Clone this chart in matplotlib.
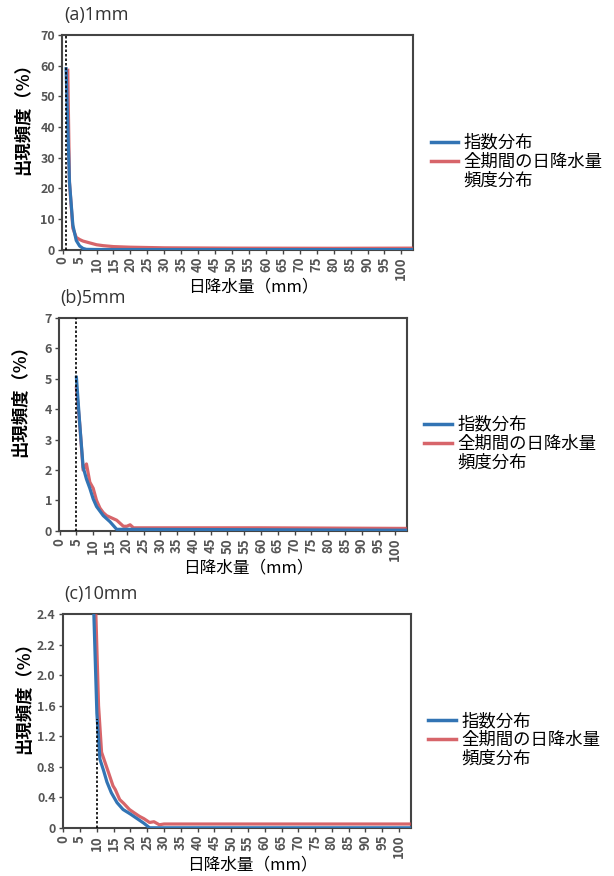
import matplotlib.pyplot as plt
from matplotlib.lines import Line2D

plt.rcParams['font.family'] = ['Noto Sans CJK JP', 'DejaVu Sans']

# ---- data ----
# (a) 1mm threshold
a_exp_x = [1, 2, 3, 4, 5, 6, 7, 10, 20, 50, 104]
a_exp_y = [59, 22, 8, 3, 1.2, 0.4, 0.1, 0.05, 0.03, 0.02, 0.02]
a_obs_x = [1.5, 2, 3, 4, 5, 6, 8, 10, 12, 15, 20, 30, 50, 80, 104]
a_obs_y = [58.5, 22, 7, 4, 3.3, 2.8, 2.2, 1.6, 1.3, 1.0, 0.8, 0.6, 0.5, 0.45, 0.5]

# (b) 5mm threshold
b_exp_x = [5, 6, 7, 8, 9, 10, 11, 12, 13, 15, 17, 20, 50, 104]
b_exp_y = [5.05, 3.5, 2.1, 1.7, 1.4, 1.05, 0.8, 0.65, 0.5, 0.3, 0.05, 0.05, 0.04, 0.02]
b_obs_x = [5, 6, 7, 8, 9, 10, 11, 12, 13, 14, 15, 16, 17, 18, 19, 20, 21, 22, 30, 60, 104]
b_obs_y = [4.7, 3.5, 2.0, 2.2, 1.6, 1.4, 1.0, 0.75, 0.6, 0.5, 0.45, 0.4, 0.35, 0.25,
           0.15, 0.15, 0.2, 0.1, 0.1, 0.1, 0.08]

# (c) 10mm threshold (tick labels copied as printed)
c_exp_x = [9.1, 10, 10.9, 12, 13, 14.3, 16, 17.8, 20, 22, 24, 25.7, 50, 104]
c_exp_y = [2.8, 1.5, 0.9, 0.75, 0.6, 0.46, 0.33, 0.24, 0.18, 0.12, 0.06, 0.0, 0.0, 0.0]
c_obs_x = [9.7, 10.5, 11.4, 12.8, 13.5, 14.8, 15.5, 16.8, 18, 19.7, 21, 22.7, 24,
           25.7, 27, 28.6, 30, 60, 104]
c_obs_y = [2.8, 1.6, 0.99, 0.81, 0.72, 0.55, 0.5, 0.37, 0.32, 0.24, 0.2, 0.15, 0.12,
           0.07, 0.08, 0.04, 0.05, 0.05, 0.05]

thresholds = [1, 5, 10]
dash_tops = [70, 7, 1.43]
titles = ['(a)1mm', '(b)5mm', '(c)10mm']
ylims = [70, 7, 2.8]
yticks = [[0, 10, 20, 30, 40, 50, 60, 70],
          [0, 1, 2, 3, 4, 5, 6, 7],
          [0, 0.4, 0.8, 1.2, 1.6, 2.0, 2.4, 2.8]]
ytick_labels = [['0', '10', '20', '30', '40', '50', '60', '70'],
                ['0', '1', '2', '3', '4', '5', '6', '7'],
                ['0', '0.4', '0.8', '1.2', '1.6', '2.0', '2.2', '2.4']]
xticks = list(range(0, 101, 5))

blue = '#3274b4'
red = '#d04a50'
spine_c = '#444444'

series = [(a_exp_x, a_exp_y, a_obs_x, a_obs_y),
          (b_exp_x, b_exp_y, b_obs_x, b_obs_y),
          (c_exp_x, c_exp_y, c_obs_x, c_obs_y)]

fig = plt.figure(figsize=(6.14, 8.76), dpi=100)
rects = [[0.101, 0.715, 0.572, 0.245],
         [0.096, 0.394, 0.567, 0.243],
         [0.102, 0.055, 0.567, 0.244]]

for i in range(3):
    ax = fig.add_axes(rects[i])
    ex, ey, ox, oy = series[i]
    ax.plot(ox, oy, color=red, lw=2.3, alpha=0.85, zorder=3)
    ax.plot(ex, ey, color=blue, lw=2.3, zorder=4)
    ax.plot([thresholds[i], thresholds[i]], [0, dash_tops[i]], color='black',
            lw=1.2, ls=(0, (1.5, 1.2)), zorder=5)
    ax.set_xlim(-0.2, 103.5)
    ax.set_ylim(0, ylims[i])
    ax.set_xticks(xticks)
    ax.set_xticklabels([str(t) for t in xticks], rotation=90, fontsize=9.5,
                       color='#555555', fontweight='bold')
    ax.set_yticks(yticks[i])
    ax.set_yticklabels(ytick_labels[i], fontsize=9, color='#555555',
                       fontweight='bold')
    ax.tick_params(length=3, width=1, color=spine_c, pad=2)
    for s in ax.spines.values():
        s.set_color(spine_c)
        s.set_linewidth(1.5)
    ax.set_ylabel('出現頻度（%）', fontsize=12.5, fontweight='bold')
    ax.yaxis.set_label_coords(-0.085, 0.63)
    ax.set_xlabel('日降水量（mm）', fontsize=12)
    ax.xaxis.set_label_coords(0.545, -0.135)
    ax.text(0.005, 1.05, titles[i], transform=ax.transAxes, fontsize=13,
            family='Open Sans', ha='left', va='bottom', color='#333333')

    handles = [Line2D([], [], color=blue, lw=2.5),
               Line2D([], [], color=red, lw=2.5, alpha=0.85),
               Line2D([], [], lw=0)]
    ax.legend(handles, ['指数分布', '全期間の日降水量', '頻度分布'],
              loc='center left', bbox_to_anchor=(1.03, 0.41), frameon=False,
              fontsize=12.5, handlelength=1.6, handletextpad=0.3,
              labelspacing=0.05, borderaxespad=0)

fig.savefig('out.png', dpi=100)
